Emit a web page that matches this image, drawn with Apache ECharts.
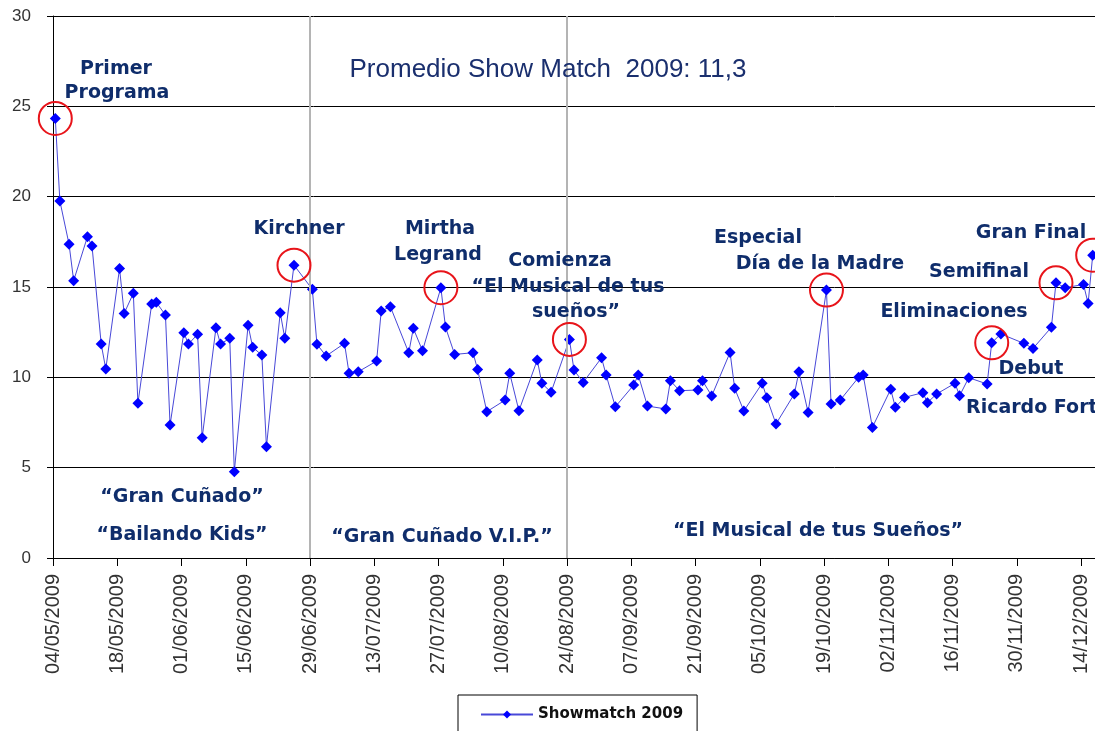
<!DOCTYPE html>
<html>
<head>
<meta charset="utf-8">
<title>Showmatch 2009</title>
<script src="https://cdn.jsdelivr.net/npm/echarts@6/dist/echarts.min.js"></script>
<style>
  html, body { margin: 0; padding: 0; background: #fff; }
  #chart { width: 1095px; height: 731px; }
</style>
</head>
<body>
<div id="chart"></div>
<script>
// fechas de emision (lun/mar/jue/vie) y rating
var fechas = [
  '2009-05-04','2009-05-05','2009-05-07','2009-05-08','2009-05-11','2009-05-12','2009-05-14','2009-05-15',
  '2009-05-18','2009-05-19','2009-05-21','2009-05-22','2009-05-25','2009-05-26','2009-05-28','2009-05-29',
  '2009-06-01','2009-06-02','2009-06-04','2009-06-05','2009-06-08','2009-06-09','2009-06-11','2009-06-12',
  '2009-06-15','2009-06-16','2009-06-18','2009-06-19','2009-06-22','2009-06-23','2009-06-25','2009-06-29',
  '2009-06-30','2009-07-02','2009-07-06','2009-07-07','2009-07-09','2009-07-13','2009-07-14','2009-07-16',
  '2009-07-20','2009-07-21','2009-07-23','2009-07-27','2009-07-28','2009-07-30','2009-08-03','2009-08-04',
  '2009-08-06','2009-08-10','2009-08-11','2009-08-13','2009-08-17','2009-08-18','2009-08-20','2009-08-24',
  '2009-08-25','2009-08-27','2009-08-31','2009-09-01','2009-09-03','2009-09-07','2009-09-08','2009-09-10',
  '2009-09-14','2009-09-15','2009-09-17','2009-09-21','2009-09-22','2009-09-24','2009-09-28','2009-09-29',
  '2009-10-01','2009-10-05','2009-10-06','2009-10-08','2009-10-12','2009-10-13','2009-10-15','2009-10-19',
  '2009-10-20','2009-10-22','2009-10-26','2009-10-27','2009-10-29','2009-11-02','2009-11-03','2009-11-05',
  '2009-11-09','2009-11-10','2009-11-12','2009-11-16','2009-11-17','2009-11-19','2009-11-23','2009-11-24',
  '2009-11-26','2009-12-01','2009-12-03','2009-12-07','2009-12-08','2009-12-10','2009-12-14','2009-12-15',
  '2009-12-16'
];
var rating = [
  24.33,19.76,17.36,15.35,17.78,17.27,11.84,10.46,
  16.03,13.54,14.65,8.56,14.06,14.15,13.45,7.36,
  12.47,11.84,12.38,6.66,12.74,11.84,12.16,4.78,
  12.88,11.66,11.23,6.16,13.58,12.16,16.21,14.87,
  11.83,11.18,11.88,10.22,10.31,10.90,13.67,13.91,
  11.36,12.71,11.47,14.96,12.78,11.27,11.36,10.44,
  8.10,8.74,10.22,8.15,10.96,9.67,9.17,12.10,
  10.40,9.72,11.08,10.13,8.37,9.57,10.13,8.41,
  8.25,9.81,9.26,9.30,9.81,8.97,11.38,9.39,
  8.14,9.67,8.87,7.42,9.08,10.31,8.06,14.83,
  8.52,8.74,10.00,10.13,7.23,9.34,8.34,8.89,
  9.15,8.60,9.08,9.67,8.98,9.98,9.63,11.91,
  12.40,11.88,11.60,12.77,15.23,14.96,15.14,14.09,
  16.76
];
// programas marcados con circulo rojo
var destacados = ['2009-05-04','2009-06-25','2009-07-27','2009-08-24','2009-10-19','2009-11-24','2009-12-08','2009-12-16'];
// cambios de etapa (lineas grises)
var etapas = ['2009-06-29','2009-08-24'];
var yTicks = [0, 5, 10, 15, 20, 25, 30];

var inicio = Date.UTC(2009, 4, 4);
var DIA = 86400000;
function diaDe(f){
  var p = f.split('-');
  return Math.round((Date.UTC(+p[0], +p[1] - 1, +p[2]) - inicio) / DIA);
}
function pad(n){ return n < 10 ? '0' + n : '' + n; }

// punto en el medio del dia (como el eje de fechas de Excel)
var puntos = fechas.map(function(f, i){ return [diaDe(f) + 0.5, rating[i]]; });
var circulos = destacados.map(function(f){
  var i = fechas.indexOf(f);
  return { coord: puntos[i] };
});

var azul = '#0f2d6b';
var fuente = '"DejaVu Sans", Verdana, sans-serif';
var narrow = '"Liberation Sans Narrow", "Arial Narrow", "Liberation Sans", sans-serif';
function txt(t, x, y, align){
  return {
    type: 'text', x: x, y: y, z: 100,
    style: { text: t, fill: azul, font: 'bold 19px ' + fuente, textAlign: align || 'center', textVerticalAlign: 'middle' }
  };
}

var myChart = echarts.init(document.getElementById('chart'));
var option = {
  backgroundColor: '#fff',
  animation: false,
  grid: { left: 53, right: -1, top: 16, bottom: 173 },
  legend: {
    data: ['Showmatch 2009'],
    left: 458, top: 695,
    borderColor: '#000', borderWidth: 1, borderRadius: 0,
    padding: [12, 14, 14, 22],
    itemWidth: 52, itemHeight: 10,
    textStyle: { fontFamily: fuente, fontWeight: 'bold', fontSize: 15, color: '#111' }
  },
  xAxis: {
    type: 'value', min: 0, max: 227, interval: 14,
    axisLine: { lineStyle: { color: '#000', width: 1 } },
    axisTick: { length: 8, lineStyle: { color: '#000' } },
    splitLine: { show: false },
    axisLabel: {
      rotate: 90, margin: 16, color: '#333', fontSize: 20, showMaxLabel: false,
      fontFamily: narrow,
      formatter: function(v){
        if (v % 14 !== 0) return '';
        var d = new Date(inicio + v * DIA);
        return pad(d.getUTCDate()) + '/' + pad(d.getUTCMonth() + 1) + '/' + d.getUTCFullYear();
      }
    }
  },
  yAxis: {
    type: 'value', min: yTicks[0], max: yTicks[yTicks.length - 1], interval: 5,
    axisLine: { show: true, lineStyle: { color: '#000' } },
    axisTick: { show: true, length: 6, lineStyle: { color: '#000' } },
    splitLine: { lineStyle: { color: '#000', width: 1 } },
    axisLabel: { margin: 22, color: '#333', fontSize: 17, fontFamily: narrow }
  },
  series: [{
    name: 'Showmatch 2009',
    type: 'line',
    data: puntos,
    symbol: 'diamond',
    symbolSize: 11,
    clip: false,
    itemStyle: { color: '#0000ff' },
    lineStyle: { color: '#4848d8', width: 1 },
    markLine: {
      silent: true, symbol: 'none',
      label: { show: false },
      lineStyle: { color: '#b4b4b4', width: 2, type: 'solid' },
      data: etapas.map(function(f){ return { xAxis: diaDe(f) }; })
    },
    markPoint: {
      silent: true,
      symbol: 'circle', symbolSize: 33,
      label: { show: false },
      itemStyle: { color: 'rgba(0,0,0,0)', borderColor: '#e8141a', borderWidth: 2 },
      data: circulos
    }
  }],
  graphic: [
    {
      type: 'text', x: 548, y: 70, z: 100,
      style: { text: 'Promedio Show Match  2009: 11,3', fill: '#1a2f6e', font: '26px "Liberation Sans", Arial, sans-serif', textAlign: 'center', textVerticalAlign: 'middle' }
    },
    txt('Primer', 116, 69),
    txt('Programa', 117, 93),
    txt('Kirchner', 299, 229),
    txt('Mirtha', 440, 229),
    txt('Legrand', 438, 255),
    txt('Comienza', 560, 261),
    txt('\u201cEl Musical de tus', 568, 287),
    txt('sue\u00f1os\u201d', 576, 312),
    txt('Especial', 758, 238),
    txt('D\u00eda de la Madre', 820, 264),
    txt('Gran Final', 1031, 233),
    txt('Semifinal', 979, 272),
    txt('Eliminaciones', 954, 312),
    txt('Debut', 1031, 369),
    txt('Ricardo Fort', 966, 408, 'left'),
    txt('\u201cGran Cu\u00f1ado\u201d', 182, 497),
    txt('\u201cBailando Kids\u201d', 182, 535),
    txt('\u201cGran Cu\u00f1ado V.I.P.\u201d', 442, 537),
    txt('\u201cEl Musical de tus Sue\u00f1os\u201d', 818, 531)
  ]
};
myChart.setOption(option);
</script>
</body>
</html>
